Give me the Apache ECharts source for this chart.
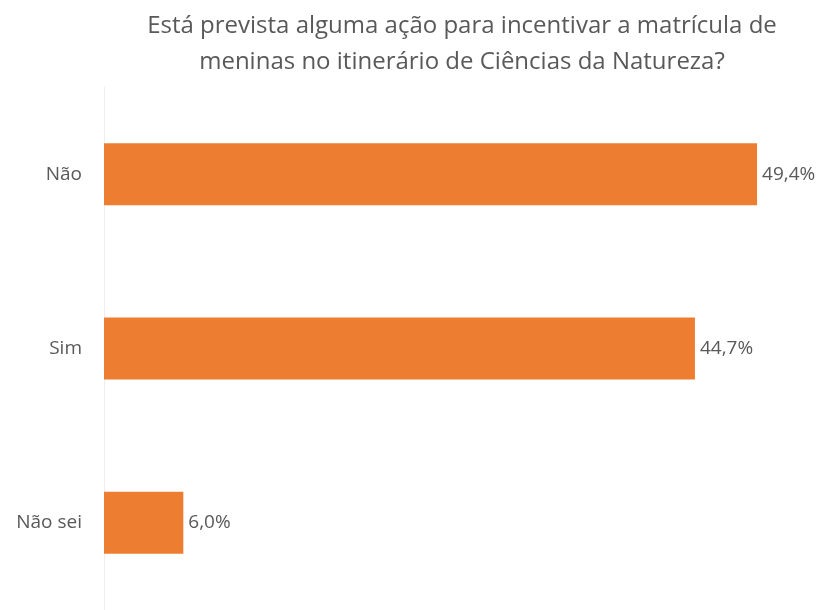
<!DOCTYPE html>
<html><head><meta charset="utf-8">
<script src="https://cdn.jsdelivr.net/npm/echarts@6/dist/echarts.min.js"></script>
<style>html,body{margin:0;padding:0;background:#fff}#c{width:825px;height:610px}</style>
</head><body><div id="c"></div>
<script>
const titleText = 'Está prevista alguma ação para incentivar a matrícula de\nmeninas no itinerário de Ciências da Natureza?';
const categories = ['Não', 'Sim', 'Não sei'];
const values = [49.4, 44.7, 6.0];

const chart = echarts.init(document.getElementById('c'), null, {renderer: 'canvas'});
chart.setOption({
  animation: false,
  backgroundColor: '#ffffff',
  title: {
    text: titleText,
    left: 457, top: 3, textAlign: 'center',
    textStyle: {fontFamily: 'Open Sans', fontSize: 24, fontWeight: 'normal', color: '#595959', lineHeight: 36}
  },
  grid: {left: 104, right: 60, top: 87, height: 524, containLabel: false},
  xAxis: {type: 'value', min: 0, max: 50, show: false},
  yAxis: {
    type: 'category', data: categories, inverse: true,
    axisLine: {show: true, lineStyle: {color: '#eeeeee', width: 1}},
    axisTick: {show: false},
    axisLabel: {color: '#595959', fontSize: 19, fontFamily: 'Open Sans', margin: 22}
  },
  series: [{
    type: 'bar', data: values, barWidth: 62,
    itemStyle: {color: '#ED7D31'},
    label: {show: true, position: 'right', distance: 5, color: '#595959', fontSize: 19, fontFamily: 'Open Sans',
      formatter: p => p.value.toFixed(1).replace('.', ',') + '%'}
  }]
});
</script></body></html>
